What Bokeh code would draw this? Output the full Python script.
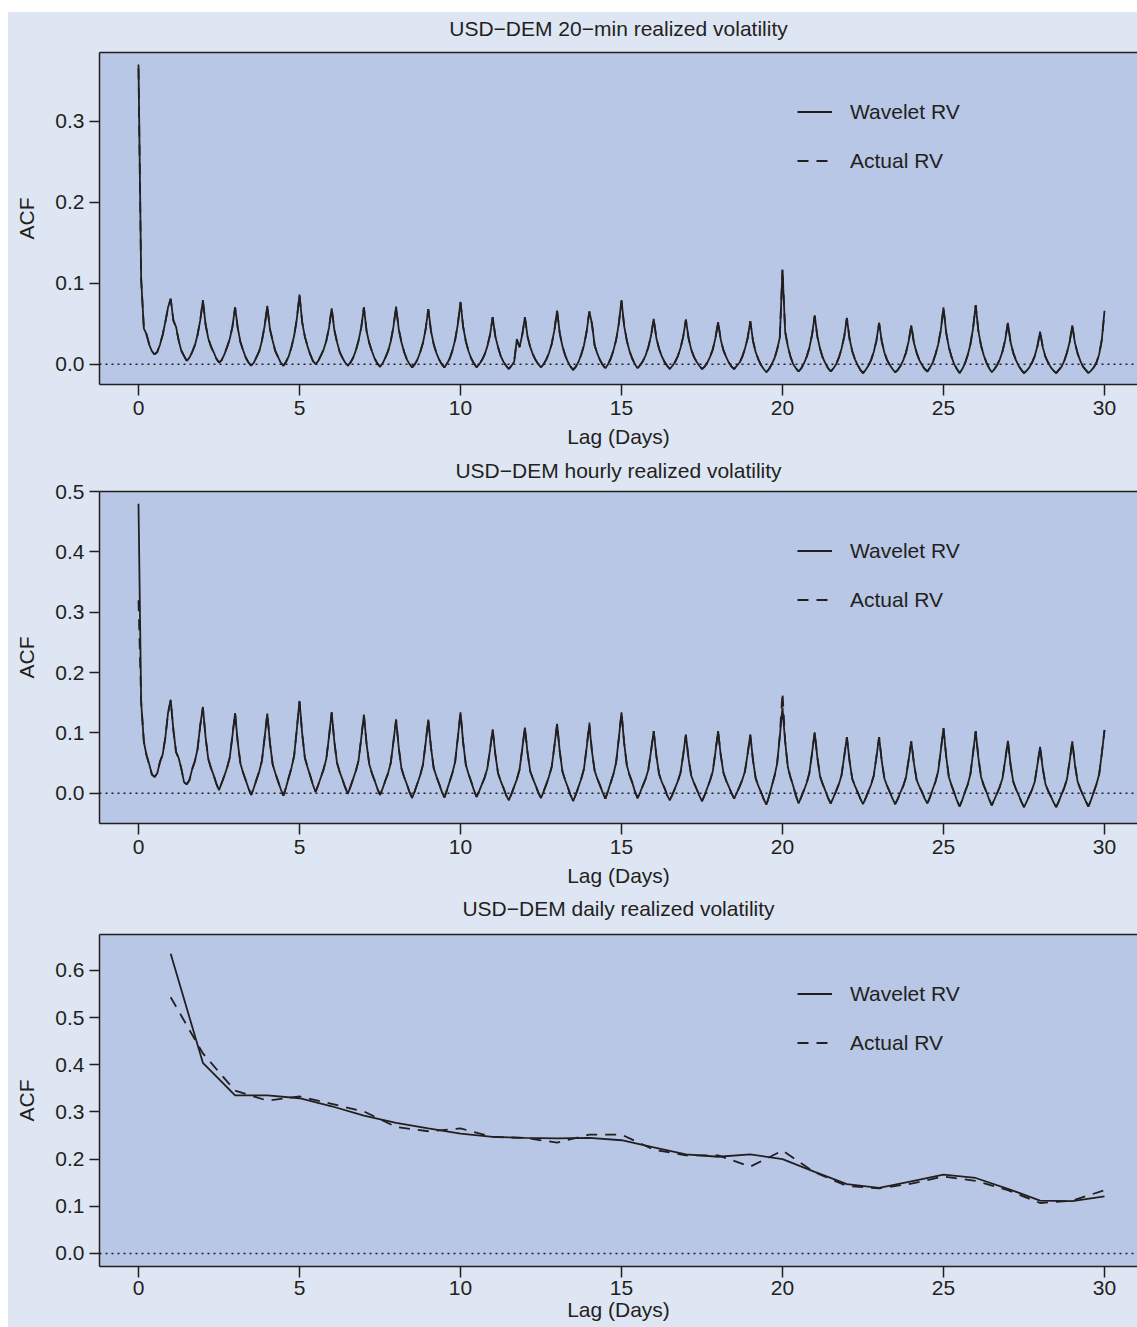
import numpy as np
from bokeh.plotting import figure
from bokeh.models import (Span, Legend, LegendItem, FixedTicker, NumeralTickFormatter,
                          LinearAxis, Range1d)
from bokeh.layouts import column
from bokeh.embed import file_html
from bokeh.resources import INLINE

FONT = "Liberation Sans"
TXT = "#231f20"
OUTER = "#dfe6f3"
INNER = "#b8c7e5"

titles = ["USD\u2212DEM 20\u2212min realized volatility",
          "USD\u2212DEM hourly realized volatility",
          "USD\u2212DEM daily realized volatility"]
x_ticks = [0, 5, 10, 15, 20, 25, 30]
y_ticks_20min = [0.0, 0.1, 0.2, 0.3]
y_ticks_hourly = [0.0, 0.1, 0.2, 0.3, 0.4, 0.5]
y_ticks_daily = [0.0, 0.1, 0.2, 0.3, 0.4, 0.5, 0.6]

# 20-min ACF, read every 2 hours (12 values per day), lags 0..30 days
wav_20min = [
    0.370, 0.105, 0.044, 0.037, 0.024, 0.016, 0.012, 0.015, 0.024, 0.036, 0.052, 0.070,
    0.081, 0.054, 0.046, 0.029, 0.016, 0.010, 0.004, 0.008, 0.015, 0.023, 0.036, 0.054,
    0.079, 0.049, 0.032, 0.022, 0.015, 0.007, 0.002, 0.005, 0.012, 0.021, 0.031, 0.046,
    0.070, 0.045, 0.027, 0.017, 0.008, 0.002, -0.002, 0.002, 0.009, 0.016, 0.029, 0.047,
    0.072, 0.043, 0.029, 0.016, 0.009, 0.002, -0.002, 0.003, 0.010, 0.021, 0.035, 0.056,
    0.086, 0.052, 0.034, 0.022, 0.012, 0.004, 0.000, 0.004, 0.011, 0.018, 0.029, 0.045,
    0.069, 0.042, 0.027, 0.015, 0.008, 0.002, -0.002, 0.002, 0.008, 0.017, 0.029, 0.045,
    0.070, 0.041, 0.026, 0.016, 0.007, 0.001, -0.003, 0.001, 0.008, 0.016, 0.028, 0.046,
    0.071, 0.043, 0.027, 0.015, 0.006, 0.000, -0.004, 0.000, 0.006, 0.015, 0.026, 0.043,
    0.068, 0.041, 0.025, 0.014, 0.006, 0.000, -0.004, 0.001, 0.007, 0.017, 0.030, 0.049,
    0.077, 0.046, 0.028, 0.016, 0.007, 0.001, -0.004, 0.000, 0.005, 0.012, 0.022, 0.036,
    0.058, 0.034, 0.021, 0.010, 0.003, -0.002, -0.006, -0.002, 0.003, 0.031, 0.021, 0.036,
    0.058, 0.034, 0.021, 0.012, 0.005, 0.000, -0.004, 0.000, 0.006, 0.014, 0.025, 0.042,
    0.066, 0.038, 0.022, 0.011, 0.003, -0.003, -0.007, -0.003, 0.003, 0.012, 0.023, 0.040,
    0.065, 0.050, 0.023, 0.013, 0.005, -0.001, -0.005, 0.000, 0.007, 0.017, 0.030, 0.050,
    0.079, 0.047, 0.029, 0.016, 0.007, 0.000, -0.005, -0.001, 0.004, 0.011, 0.021, 0.035,
    0.056, 0.032, 0.019, 0.010, 0.003, -0.002, -0.006, -0.002, 0.003, 0.010, 0.020, 0.034,
    0.055, 0.032, 0.018, 0.009, 0.003, -0.002, -0.006, -0.003, 0.002, 0.009, 0.018, 0.032,
    0.052, 0.030, 0.017, 0.009, 0.002, -0.003, -0.006, -0.002, 0.002, 0.009, 0.019, 0.032,
    0.053, 0.029, 0.015, 0.006, -0.001, -0.006, -0.010, -0.006, 0.000, 0.007, 0.018, 0.033,
    0.116, 0.040, 0.022, 0.009, 0.000, -0.005, -0.009, -0.005, 0.001, 0.009, 0.020, 0.036,
    0.060, 0.034, 0.019, 0.008, 0.001, -0.005, -0.009, -0.005, 0.000, 0.008, 0.019, 0.034,
    0.057, 0.031, 0.016, 0.006, -0.001, -0.007, -0.011, -0.007, -0.002, 0.005, 0.015, 0.029,
    0.051, 0.028, 0.014, 0.005, -0.001, -0.006, -0.010, -0.007, -0.002, 0.005, 0.014, 0.028,
    0.048, 0.026, 0.014, 0.005, -0.001, -0.006, -0.009, -0.004, 0.002, 0.012, 0.024, 0.042,
    0.070, 0.039, 0.021, 0.009, 0.000, -0.006, -0.011, -0.006, 0.001, 0.011, 0.024, 0.044,
    0.073, 0.041, 0.023, 0.011, 0.002, -0.005, -0.010, -0.006, -0.001, 0.006, 0.016, 0.030,
    0.051, 0.027, 0.014, 0.005, -0.002, -0.007, -0.011, -0.008, -0.004, 0.002, 0.010, 0.022,
    0.040, 0.021, 0.009, 0.002, -0.004, -0.008, -0.011, -0.007, -0.003, 0.004, 0.014, 0.027,
    0.048, 0.026, 0.013, 0.004, -0.003, -0.007, -0.011, -0.008, -0.004, 0.002, 0.012, 0.030,
    0.066]

act_20min = [
    0.365, 0.104, 0.045, 0.036, 0.025, 0.016, 0.012, 0.015, 0.025, 0.036, 0.052, 0.069,
    0.080, 0.054, 0.045, 0.029, 0.017, 0.010, 0.004, 0.008, 0.015, 0.024, 0.036, 0.054,
    0.078, 0.049, 0.032, 0.022, 0.014, 0.007, 0.002, 0.005, 0.012, 0.021, 0.031, 0.046,
    0.070, 0.044, 0.027, 0.017, 0.008, 0.002, -0.002, 0.002, 0.009, 0.016, 0.029, 0.047,
    0.071, 0.043, 0.029, 0.016, 0.009, 0.002, -0.002, 0.003, 0.010, 0.021, 0.035, 0.055,
    0.085, 0.052, 0.034, 0.022, 0.012, 0.004, 0.000, 0.004, 0.011, 0.018, 0.029, 0.045,
    0.069, 0.042, 0.027, 0.015, 0.008, 0.002, -0.002, 0.002, 0.008, 0.017, 0.029, 0.045,
    0.070, 0.041, 0.026, 0.016, 0.007, 0.001, -0.003, 0.001, 0.008, 0.016, 0.028, 0.046,
    0.070, 0.043, 0.027, 0.015, 0.006, 0.000, -0.004, 0.000, 0.006, 0.015, 0.026, 0.043,
    0.068, 0.041, 0.025, 0.014, 0.006, 0.000, -0.004, 0.001, 0.007, 0.017, 0.030, 0.049,
    0.076, 0.046, 0.028, 0.016, 0.007, 0.001, -0.004, 0.000, 0.005, 0.012, 0.022, 0.036,
    0.058, 0.034, 0.021, 0.010, 0.003, -0.002, -0.006, -0.002, 0.003, 0.030, 0.021, 0.036,
    0.058, 0.034, 0.021, 0.012, 0.005, 0.000, -0.004, 0.000, 0.006, 0.014, 0.025, 0.042,
    0.066, 0.038, 0.022, 0.011, 0.003, -0.003, -0.007, -0.003, 0.003, 0.012, 0.023, 0.040,
    0.065, 0.049, 0.023, 0.013, 0.005, -0.001, -0.005, 0.000, 0.007, 0.017, 0.030, 0.050,
    0.078, 0.047, 0.029, 0.016, 0.007, 0.000, -0.005, -0.001, 0.004, 0.011, 0.021, 0.035,
    0.056, 0.032, 0.019, 0.010, 0.003, -0.002, -0.006, -0.002, 0.003, 0.010, 0.020, 0.034,
    0.055, 0.032, 0.018, 0.009, 0.003, -0.002, -0.006, -0.003, 0.002, 0.009, 0.018, 0.032,
    0.052, 0.030, 0.017, 0.009, 0.002, -0.003, -0.006, -0.002, 0.002, 0.009, 0.019, 0.032,
    0.053, 0.029, 0.015, 0.006, -0.001, -0.006, -0.010, -0.006, 0.000, 0.007, 0.018, 0.033,
    0.118, 0.040, 0.022, 0.009, 0.000, -0.005, -0.009, -0.005, 0.001, 0.009, 0.020, 0.036,
    0.060, 0.034, 0.019, 0.008, 0.001, -0.005, -0.009, -0.005, 0.000, 0.008, 0.019, 0.034,
    0.057, 0.031, 0.016, 0.006, -0.001, -0.007, -0.011, -0.007, -0.002, 0.005, 0.015, 0.029,
    0.051, 0.028, 0.014, 0.005, -0.001, -0.006, -0.010, -0.007, -0.002, 0.005, 0.014, 0.028,
    0.048, 0.026, 0.014, 0.005, -0.001, -0.006, -0.009, -0.004, 0.002, 0.012, 0.024, 0.042,
    0.070, 0.039, 0.021, 0.009, 0.000, -0.006, -0.011, -0.006, 0.001, 0.011, 0.024, 0.044,
    0.073, 0.041, 0.023, 0.011, 0.002, -0.005, -0.010, -0.006, -0.001, 0.006, 0.016, 0.030,
    0.051, 0.027, 0.014, 0.005, -0.002, -0.007, -0.011, -0.008, -0.004, 0.002, 0.010, 0.022,
    0.040, 0.021, 0.009, 0.002, -0.004, -0.008, -0.011, -0.007, -0.003, 0.004, 0.014, 0.027,
    0.048, 0.026, 0.013, 0.004, -0.003, -0.007, -0.011, -0.008, -0.004, 0.002, 0.012, 0.030,
    0.064]

# hourly ACF, read every 2 hours (12 values per day)
wav_hourly = [
    0.480, 0.150, 0.085, 0.063, 0.048, 0.031, 0.027, 0.033, 0.052, 0.064, 0.092, 0.133,
    0.155, 0.105, 0.068, 0.058, 0.040, 0.018, 0.015, 0.022, 0.040, 0.053, 0.073, 0.112,
    0.143, 0.093, 0.057, 0.042, 0.030, 0.016, 0.005, 0.017, 0.029, 0.042, 0.059, 0.095,
    0.133, 0.084, 0.049, 0.034, 0.021, 0.008, -0.003, 0.009, 0.023, 0.036, 0.054, 0.092,
    0.132, 0.083, 0.048, 0.033, 0.020, 0.007, -0.004, 0.010, 0.026, 0.042, 0.062, 0.106,
    0.153, 0.099, 0.059, 0.043, 0.029, 0.014, 0.002, 0.014, 0.027, 0.040, 0.057, 0.094,
    0.134, 0.085, 0.050, 0.035, 0.023, 0.010, -0.001, 0.011, 0.024, 0.037, 0.054, 0.091,
    0.130, 0.082, 0.048, 0.033, 0.021, 0.008, -0.003, 0.008, 0.021, 0.033, 0.050, 0.085,
    0.122, 0.075, 0.041, 0.027, 0.015, 0.002, -0.008, 0.004, 0.017, 0.030, 0.047, 0.083,
    0.122, 0.076, 0.042, 0.028, 0.016, 0.003, -0.007, 0.006, 0.020, 0.034, 0.052, 0.092,
    0.134, 0.084, 0.047, 0.032, 0.019, 0.005, -0.006, 0.004, 0.015, 0.026, 0.041, 0.072,
    0.106, 0.064, 0.033, 0.020, 0.009, -0.003, -0.012, -0.001, 0.011, 0.023, 0.039, 0.073,
    0.109, 0.067, 0.036, 0.024, 0.013, 0.001, -0.008, 0.003, 0.015, 0.028, 0.044, 0.078,
    0.115, 0.069, 0.036, 0.022, 0.010, -0.003, -0.013, -0.002, 0.011, 0.024, 0.040, 0.075,
    0.113, 0.069, 0.037, 0.024, 0.013, 0.001, -0.009, 0.004, 0.018, 0.032, 0.051, 0.091,
    0.134, 0.083, 0.046, 0.030, 0.018, 0.003, -0.008, 0.002, 0.013, 0.024, 0.039, 0.070,
    0.103, 0.062, 0.032, 0.019, 0.009, -0.003, -0.012, -0.002, 0.009, 0.020, 0.034, 0.064,
    0.097, 0.057, 0.029, 0.017, 0.007, -0.004, -0.013, -0.003, 0.009, 0.021, 0.036, 0.068,
    0.103, 0.063, 0.034, 0.021, 0.011, 0.000, -0.009, 0.001, 0.011, 0.022, 0.036, 0.065,
    0.097, 0.055, 0.025, 0.012, 0.002, -0.010, -0.019, -0.005, 0.012, 0.028, 0.049, 0.094,
    0.142, 0.085, 0.043, 0.026, 0.012, -0.004, -0.017, -0.006, 0.005, 0.017, 0.033, 0.066,
    0.101, 0.059, 0.028, 0.015, 0.004, -0.008, -0.017, -0.007, 0.004, 0.015, 0.030, 0.061,
    0.093, 0.053, 0.024, 0.012, 0.002, -0.009, -0.018, -0.008, 0.003, 0.014, 0.029, 0.060,
    0.093, 0.053, 0.024, 0.012, 0.002, -0.009, -0.018, -0.009, 0.002, 0.012, 0.026, 0.055,
    0.086, 0.049, 0.022, 0.011, 0.002, -0.009, -0.017, -0.006, 0.007, 0.019, 0.036, 0.071,
    0.108, 0.061, 0.027, 0.013, 0.001, -0.012, -0.022, -0.011, 0.002, 0.014, 0.031, 0.066,
    0.103, 0.059, 0.027, 0.013, 0.002, -0.010, -0.020, -0.010, 0.000, 0.011, 0.025, 0.055,
    0.087, 0.047, 0.019, 0.007, -0.003, -0.014, -0.023, -0.014, -0.004, 0.006, 0.019, 0.047,
    0.077, 0.041, 0.015, 0.004, -0.005, -0.015, -0.023, -0.013, -0.002, 0.009, 0.023, 0.053,
    0.086, 0.047, 0.019, 0.007, -0.003, -0.013, -0.022, -0.011, 0.002, 0.015, 0.031, 0.066,
    0.104]

act_hourly = [
    0.320, 0.152, 0.086, 0.063, 0.047, 0.031, 0.027, 0.033, 0.052, 0.064, 0.092, 0.132,
    0.154, 0.105, 0.068, 0.058, 0.040, 0.018, 0.015, 0.022, 0.040, 0.053, 0.073, 0.112,
    0.142, 0.093, 0.057, 0.042, 0.030, 0.016, 0.005, 0.017, 0.029, 0.042, 0.059, 0.095,
    0.133, 0.084, 0.049, 0.034, 0.021, 0.008, -0.003, 0.009, 0.023, 0.036, 0.054, 0.092,
    0.132, 0.083, 0.048, 0.033, 0.020, 0.007, -0.004, 0.010, 0.026, 0.042, 0.062, 0.106,
    0.152, 0.099, 0.059, 0.043, 0.029, 0.014, 0.002, 0.014, 0.027, 0.040, 0.057, 0.094,
    0.134, 0.085, 0.050, 0.035, 0.023, 0.010, -0.001, 0.011, 0.024, 0.037, 0.054, 0.091,
    0.130, 0.082, 0.048, 0.033, 0.021, 0.008, -0.003, 0.008, 0.021, 0.033, 0.050, 0.085,
    0.122, 0.075, 0.041, 0.027, 0.015, 0.002, -0.008, 0.004, 0.017, 0.030, 0.047, 0.083,
    0.122, 0.076, 0.042, 0.028, 0.016, 0.003, -0.007, 0.006, 0.020, 0.034, 0.052, 0.092,
    0.134, 0.084, 0.047, 0.032, 0.019, 0.005, -0.006, 0.004, 0.015, 0.026, 0.041, 0.072,
    0.106, 0.064, 0.033, 0.020, 0.009, -0.003, -0.012, -0.001, 0.011, 0.023, 0.039, 0.073,
    0.109, 0.067, 0.036, 0.024, 0.013, 0.001, -0.008, 0.003, 0.015, 0.028, 0.044, 0.078,
    0.115, 0.069, 0.036, 0.022, 0.010, -0.003, -0.013, -0.002, 0.011, 0.024, 0.040, 0.075,
    0.117, 0.069, 0.037, 0.024, 0.013, 0.001, -0.009, 0.004, 0.018, 0.032, 0.051, 0.091,
    0.134, 0.083, 0.046, 0.030, 0.018, 0.003, -0.008, 0.002, 0.013, 0.024, 0.039, 0.070,
    0.103, 0.062, 0.032, 0.019, 0.009, -0.003, -0.012, -0.002, 0.009, 0.020, 0.034, 0.064,
    0.097, 0.057, 0.029, 0.017, 0.007, -0.004, -0.013, -0.003, 0.009, 0.021, 0.036, 0.068,
    0.103, 0.063, 0.034, 0.021, 0.011, 0.000, -0.009, 0.001, 0.011, 0.022, 0.036, 0.065,
    0.097, 0.055, 0.025, 0.012, 0.002, -0.010, -0.019, -0.005, 0.012, 0.028, 0.049, 0.096,
    0.167, 0.086, 0.043, 0.026, 0.012, -0.004, -0.017, -0.006, 0.005, 0.017, 0.033, 0.066,
    0.101, 0.059, 0.028, 0.015, 0.004, -0.008, -0.017, -0.007, 0.004, 0.015, 0.030, 0.061,
    0.093, 0.053, 0.024, 0.012, 0.002, -0.009, -0.018, -0.008, 0.003, 0.014, 0.029, 0.060,
    0.093, 0.053, 0.024, 0.012, 0.002, -0.009, -0.018, -0.009, 0.002, 0.012, 0.026, 0.055,
    0.086, 0.049, 0.022, 0.011, 0.002, -0.009, -0.017, -0.006, 0.007, 0.019, 0.036, 0.071,
    0.108, 0.061, 0.027, 0.013, 0.001, -0.012, -0.022, -0.011, 0.002, 0.014, 0.031, 0.066,
    0.103, 0.059, 0.027, 0.013, 0.002, -0.010, -0.020, -0.010, 0.000, 0.011, 0.025, 0.055,
    0.087, 0.047, 0.019, 0.007, -0.003, -0.014, -0.023, -0.014, -0.004, 0.006, 0.019, 0.047,
    0.077, 0.041, 0.015, 0.004, -0.005, -0.015, -0.023, -0.013, -0.002, 0.009, 0.023, 0.053,
    0.086, 0.047, 0.019, 0.007, -0.003, -0.013, -0.022, -0.011, 0.002, 0.015, 0.031, 0.066,
    0.105]

# daily ACF, lags 1..30 days
days_daily = list(range(1, 31))
wav_daily = [0.635, 0.404, 0.335, 0.335, 0.329, 0.312, 0.292, 0.277, 0.265, 0.254,
             0.247, 0.245, 0.244, 0.245, 0.240, 0.225, 0.210, 0.205, 0.210, 0.200,
             0.173, 0.147, 0.139, 0.153, 0.167, 0.160, 0.137, 0.112, 0.111, 0.121]
act_daily = [0.543, 0.424, 0.345, 0.324, 0.333, 0.317, 0.301, 0.268, 0.259, 0.265,
             0.247, 0.245, 0.235, 0.252, 0.252, 0.220, 0.208, 0.208, 0.184, 0.218,
             0.172, 0.143, 0.138, 0.148, 0.163, 0.154, 0.134, 0.107, 0.112, 0.134]

steps_per_day = 12
lag_20min = np.arange(len(wav_20min)) / steps_per_day
lag_hourly = np.arange(len(wav_hourly)) / steps_per_day

X_START, X_END = -1.211, 31.025


def style_text_axis(ax):
    ax.axis_line_color = TXT
    ax.axis_line_width = 1.5
    ax.major_tick_line_color = TXT
    ax.major_tick_line_width = 1.5
    ax.major_tick_in = 0
    ax.minor_tick_line_color = None
    ax.major_label_text_font = FONT
    ax.major_label_text_font_size = "21px"
    ax.major_label_text_color = TXT
    ax.axis_label_text_font = FONT
    ax.axis_label_text_font_size = "21px"
    ax.axis_label_text_font_style = "normal"
    ax.axis_label_text_color = TXT


def make_panel(title, x, wav, act, y_range, y_ticks, height, b_top, b_bottom,
               title_standoff, tick_standoff, label_standoff):
    p = figure(width=1129, height=height, output_backend="svg", toolbar_location=None,
               x_range=Range1d(X_START, X_END), y_range=Range1d(*y_range),
               min_border_left=91, min_border_right=0,
               min_border_top=b_top, min_border_bottom=b_bottom,
               background_fill_color=INNER, border_fill_color=OUTER,
               outline_line_color=None)
    p.grid.visible = False
    p.title.text = ""
    p.title.text_font_size = "1px"
    p.title.standoff = 0

    style_text_axis(p.xaxis[0])
    style_text_axis(p.yaxis[0])

    p.xaxis.ticker = FixedTicker(ticks=x_ticks)
    p.xaxis.major_tick_out = 11
    p.xaxis.major_label_standoff = tick_standoff
    p.xaxis.axis_label = "Lag (Days)"
    p.xaxis.axis_label_standoff = label_standoff

    p.yaxis.ticker = FixedTicker(ticks=y_ticks)
    p.yaxis.formatter = NumeralTickFormatter(format="0.0")
    p.yaxis.major_tick_out = 10
    p.yaxis.major_label_standoff = 5
    p.yaxis.axis_label = "ACF"
    p.yaxis.axis_label_standoff = 14

    # top edge of the box, carrying the panel title
    top = LinearAxis(ticker=FixedTicker(ticks=[]), axis_label=title,
                     axis_label_standoff=title_standoff, major_label_standoff=0)
    style_text_axis(top)
    top.major_tick_out = 0
    p.add_layout(top, "above")

    p.add_layout(Span(location=0, dimension="width", line_color=TXT,
                      line_dash="2 4", line_width=1.5))

    r_act = p.line(x, act, line_color=TXT, line_width=1.8, line_dash="11 8")
    r_wav = p.line(x, wav, line_color=TXT, line_width=1.8)

    legend = Legend(items=[LegendItem(label="Wavelet RV", renderers=[r_wav]),
                           LegendItem(label="Actual RV", renderers=[r_act])],
                    location=(698, 211),
                    background_fill_alpha=0, border_line_color=None,
                    padding=0, margin=0, spacing=24,
                    glyph_width=35, glyph_height=25, label_height=25,
                    label_standoff=18, label_text_font=FONT,
                    label_text_font_size="21px", label_text_color=TXT)
    p.add_layout(legend)
    return p


p1 = make_panel(titles[0], lag_20min, wav_20min, act_20min, (-0.0251, 0.3848),
                y_ticks_20min, 442, 40, 70, 13, 5, 7)
p2 = make_panel(titles[1], lag_hourly, wav_hourly, act_hourly, (-0.0502, 0.5003),
                y_ticks_hourly, 439, 37, 70, 10, 5, 7)
p3 = make_panel(titles[2], days_daily, wav_daily, act_daily, (-0.0276, 0.676),
                y_ticks_daily, 434, 41, 61, 15, 3, 0)

layout = column(p1, p2, p3, spacing=0, margin=(12, 0, 0, 8),
                styles={"background-color": OUTER})

open("out.html", "w").write(file_html(layout, INLINE))
